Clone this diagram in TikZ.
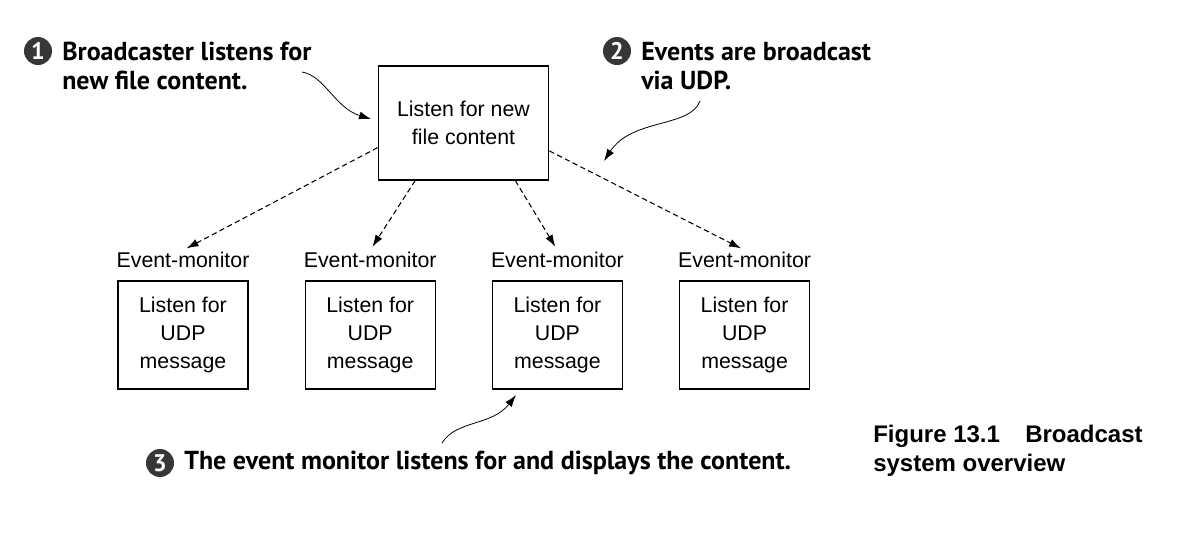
\documentclass[tikz,border=0pt]{standalone}
\usepackage{fontspec}
\setmainfont{Liberation Sans}
\newfontfamily\annfont{PT Sans}
\usepackage{tikz}
\usetikzlibrary{arrows.meta,positioning}
\definecolor{numgray}{RGB}{55,55,55}

\begin{document}
\begin{tikzpicture}[
    x=0.75pt, y=-0.75pt,
    node distance=42pt,
    box/.style={rectangle, draw=black, line width=0.9pt, align=center, font=\fontsize{16}{21}\selectfont},
    lstbox/.style={box, minimum width=128pt, minimum height=85.5pt},
    monbox/.style={box, minimum width=97.5pt, minimum height=81pt},
    tag/.style={inner sep=1pt, font=\fontsize{16}{21}\selectfont},
    num/.style={circle, fill=numgray, text=white, inner sep=0pt, minimum size=21pt, font=\annfont\bfseries\fontsize{18}{20}\selectfont},
    ann/.style={anchor=west, align=left, inner sep=0pt, font=\annfont\bfseries\fontsize{19.5}{21.75}\selectfont},
    cast/.style={-{Latex[length=9pt,width=6pt]}, dashed, dash pattern=on 4pt off 2.5pt, line width=0.8pt},
    point/.style={-{Latex[length=9pt,width=6pt]}, line width=0.6pt}
]
\useasboundingbox (0,0) rectangle (1186,544);

% broadcaster
\node[lstbox] (lst) at (463.5,123) {Listen for new\\file content};

% event monitors
\node[monbox] (m1) at (183,335) {Listen for\\UDP\\message};
\node[monbox, right=of m1] (m2) {Listen for\\UDP\\message};
\node[monbox, right=of m2] (m3) {Listen for\\UDP\\message};
\node[monbox, right=of m3] (m4) {Listen for\\UDP\\message};
\node[tag, above=8.5pt of m1] (t1) {Event-monitor};
\node[tag, above=8.5pt of m2] (t2) {Event-monitor};
\node[tag, above=8.5pt of m3] (t3) {Event-monitor};
\node[tag, above=8.5pt of m4] (t4) {Event-monitor};

\draw[cast, shorten >=3pt] (lst.196) -- (t1.north);
\draw[cast, shorten >=3pt] (lst.230) -- (t2.north);
\draw[cast, shorten >=3pt] (lst.312) -- (t3.north);
\draw[cast, shorten >=3pt] (lst.342) -- (t4.north);

% annotations
\node[num] (n1) at (38,51) {1};
\node[ann] (a1) at (62,66) {Broadcaster listens for\\new file content.};
\node[num] (n2) at (617,51) {2};
\node[ann] (a2) at (641,66) {Events are broadcast\\via UDP.};
\node[num] (n3) at (160,463) {3};
\node[ann] (a3) at (184,463) {The event monitor listens for and displays the content.};

\coordinate (a1s) at (302,72);
\coordinate (a1e) at (371,119);
\coordinate (a2s) at (700,101);
\coordinate (a2e) at (604,161);
\coordinate (a3s) at (442,443);
\coordinate (a3e) at (516,395);
\draw[point] (a1s) .. controls (325,76) and (335,108) .. (a1e);
\draw[point] (a2s) .. controls (690,128) and (632,118) .. (a2e);
\draw[point] (a3s) .. controls (456,420) and (492,426) .. (a3e);

% caption
\node[anchor=west, align=left, inner sep=0pt, font=\bfseries\fontsize{18}{22}\selectfont] (cap) at (873,451) {Figure 13.1\hspace{19pt}Broadcast\\system overview};
\end{tikzpicture}
\end{document}
